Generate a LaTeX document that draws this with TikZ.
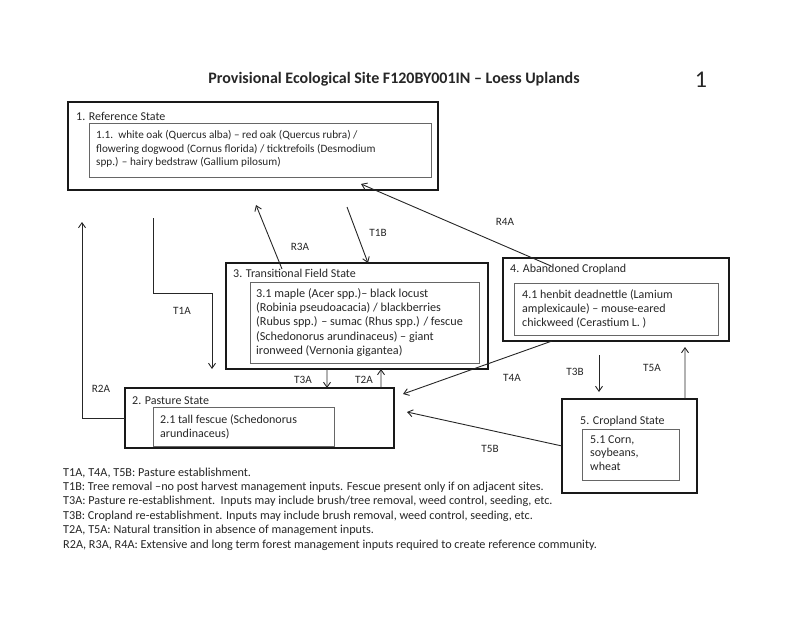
\documentclass[tikz,border=0pt]{standalone}
\usepackage{fontspec}
\setmainfont{Carlito}
\usetikzlibrary{arrows.meta}
\newcommand{\bodyfnt}{\fontsize{12bp}{13.9bp}\selectfont}
\newcommand{\lblfnt}{\fontsize{11.2bp}{13bp}\selectfont}
\begin{document}
\begin{tikzpicture}[x=1bp,y=-1bp,
  outerbox/.style={draw=black!90, line width=1.5bp, anchor=north west, inner sep=0, outer sep=0},
  innerbox/.style={draw=black!60, line width=0.9bp, anchor=north west, inner sep=0, outer sep=0},
  txt/.style={anchor=west, inner sep=0, align=left, font=\bodyfnt, text=black!85},
  lbl/.style={inner sep=0, font=\lblfnt, text=black!85},
  arr/.style={draw=black!85, line width=0.9bp, -{Straight Barb[length=5bp,width=7bp]}},
  ln/.style={draw=black!85, line width=0.9bp}]
\useasboundingbox (0,0) rectangle (800,617);

% title
\node[font=\bfseries\fontsize{16bp}{18bp}\selectfont, text=black!85] (title) at (394,79) {Provisional Ecological Site F120BY001IN – Loess Uplands};
\node[font=\fontsize{24bp}{26bp}\selectfont, text=black!85] (pg) at (701,80) {1};

% state 1
\node[outerbox, minimum width=370bp, minimum height=88bp] (s1) at (68,102) {};
\node[txt] (l1) at (76,116) {1. Reference State};
\node[innerbox, minimum width=342bp, minimum height=54bp] (i1) at (89,123) {};
\node[txt, font=\fontsize{11.2bp}{13.2bp}\selectfont] (t1) at ([xshift=7bp,yshift=1bp]i1.west) {1.1.\ \ white oak (Quercus alba) – red oak (Quercus rubra) /\\flowering dogwood (Cornus florida) / ticktrefoils (Desmodium\\spp.) – hairy bedstraw (Gallium pilosum)};

% state 3
\node[outerbox, minimum width=262bp, minimum height=106bp] (s3) at (226,263) {};
\node[txt] (l3) at (233,273) {3. Transitional Field State};
\node[innerbox, minimum width=229bp, minimum height=81bp] (i3) at (250,282) {};
\node[txt, font=\fontsize{12.2bp}{14.3bp}\selectfont] (t3) at ([xshift=6bp]i3.west) {3.1 maple (Acer spp.)– black locust\\(Robinia pseudoacacia) / blackberries\\(Rubus spp.) – sumac (Rhus spp.) / fescue\\(Schedonorus arundinaceus) – giant\\ironweed (Vernonia gigantea)};

% state 4
\node[outerbox, minimum width=226bp, minimum height=83bp] (s4) at (503,258) {};
\node[txt] (l4) at (510,269) {4. Abandoned Cropland};
\node[innerbox, minimum width=204bp, minimum height=52bp] (i4) at (514,283) {};
\node[txt] (t4) at ([xshift=8bp]i4.west) {4.1 henbit deadnettle (Lamium\\amplexicaule) – mouse-eared\\chickweed (Cerastium L. )};

% state 2
\node[outerbox, minimum width=269bp, minimum height=60bp] (s2) at (125,388) {};
\node[txt] (l2) at (132,401) {2. Pasture State};
\node[innerbox, minimum width=181bp, minimum height=39bp] (i2) at (153,407) {};
\node[txt] (t2) at ([xshift=7bp]i2.west) {2.1 tall fescue (Schedonorus\\arundinaceus)};

% state 5
\node[outerbox, minimum width=135bp, minimum height=94bp] (s5) at (562,399) {};
\node[txt] (l5) at (580,421) {5. Cropland State};
\node[innerbox, minimum width=97bp, minimum height=51bp] (i5) at (582,429) {};
\node[txt, font=\fontsize{12bp}{13.2bp}\selectfont] (t5) at ([xshift=8bp,yshift=1.5bp]i5.west) {5.1 Corn,\\soybeans,\\wheat};

% free ends
\coordinate (r3end) at (256,205);
\coordinate (t1bstart) at (347,207);
\coordinate (r4end) at (361,184);
\coordinate (t1astart) at (153,218);
\coordinate (t1acorner) at (153,293);
\coordinate (t1aend) at (212,369);
\coordinate (r2end) at (82,222);
\coordinate (t4aend) at (403,394);
\coordinate (t5bend) at (407,412);
\coordinate (t3bstart) at (599,355);
\coordinate (t3bend) at (599,392);
\coordinate (t5aend) at (685,347);

% connectors
\draw[arr] ([xshift=56bp,yshift=-6bp]s3.north west) -- (r3end);
\draw[arr] (t1bstart) -- ([xshift=142bp]s3.north west);
\draw[arr] ([xshift=48bp,yshift=-8bp]s4.north west) -- (r4end);
\draw[arr] (t1astart) -- (t1acorner) -| (t1aend);
\draw[arr] (s2.west) -| (r2end);
\draw[arr] ([xshift=101bp]s3.south west) -- ([xshift=202bp]s2.north west);
\draw[arr] ([xshift=256bp]s2.north west) -- ([xshift=155bp]s3.south west);
\draw[arr] ([xshift=49bp]s4.south west) -- (t4aend);
\draw[arr] (s5.west) -- (t5bend);
\draw[arr] (t3bstart) -- (t3bend);
\draw[arr] ([xshift=123bp]s5.north west) -- (t5aend);

% connector labels
\node[lbl] (lr3a) at (300,247) {R3A};
\node[lbl] (lt1b) at (378,233) {T1B};
\node[lbl] (lr4a) at (505,222) {R4A};
\node[lbl] (lt1a) at (182,311) {T1A};
\node[lbl] (lr2a) at (101,389) {R2A};
\node[lbl] (lt3a) at (303,380) {T3A};
\node[lbl] (lt2a) at (364,380) {T2A};
\node[lbl] (lt4a) at (512,378) {T4A};
\node[lbl] (lt3b) at (575,372) {T3B};
\node[lbl] (lt5a) at (652,368) {T5A};
\node[lbl] (lt5b) at (490,449) {T5B};

% legend
\node[anchor=north west, inner sep=0, align=left, text=black!85, font=\fontsize{12.2bp}{14.4bp}\selectfont] (legend) at (63,467.5) {T1A, T4A, T5B: Pasture establishment.\\
T1B: Tree removal –no post harvest management inputs. Fescue present only if on adjacent sites.\\
T3A: Pasture re-establishment.\ \ Inputs may include brush/tree removal, weed control, seeding, etc.\\
T3B: Cropland re-establishment. Inputs may include brush removal, weed control, seeding, etc.\\
T2A, T5A: Natural transition in absence of management inputs.\\
R2A, R3A, R4A: Extensive and long term forest management inputs required to create reference community.};
\end{tikzpicture}
\end{document}
